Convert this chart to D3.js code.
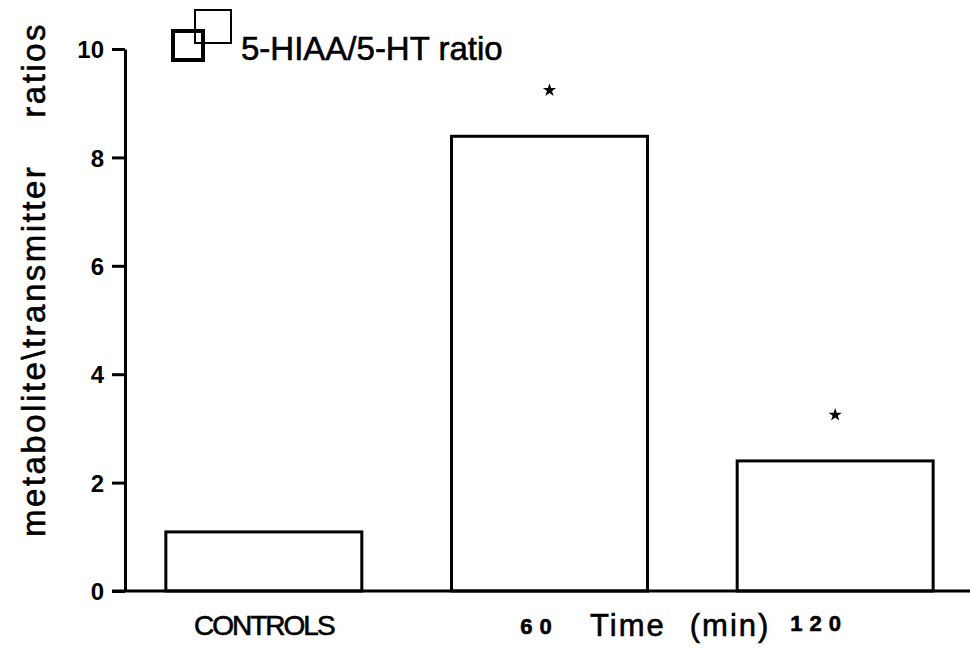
<!DOCTYPE html>
<html>
<head>
<meta charset="utf-8">
<script src="https://cdn.jsdelivr.net/npm/d3@7"></script>
<style>
  body { margin: 0; background: #fff; }
  text { font-family: "Liberation Sans", Arial, Helvetica, sans-serif; fill: #000; }
  .thick { stroke: #000; stroke-width: 0.6px; }
</style>
</head>
<body>
<div id="chart"></div>
<script>
// data
const categories = ['CONTROLS', '60', '120'];
const ratios = [1.09, 8.39, 2.40];
const significant = [false, true, true];
const yTicks = [0, 2, 4, 6, 8, 10];
const legendLabel = '5-HIAA/5-HT ratio';

const width = 970;
const height = 651;

const svg = d3.select('#chart')
    .append('svg')
    .attr('width', width)
    .attr('height', height);

svg.append('rect').attr('width', width).attr('height', height).attr('fill', '#fff');

const x = d3.scaleBand()
    .domain(categories)
    .range([121, 978])
    .paddingInner(0.314)
    .paddingOuter(0.157);

const y = d3.scaleLinear()
    .domain([0, 10])
    .range([591, 49]);

const axisX = 125;

// bars
svg.selectAll('.bar')
    .data(categories)
    .enter()
    .append('rect')
    .attr('class', 'bar')
    .attr('x', d => x(d))
    .attr('y', (d, i) => y(ratios[i]))
    .attr('width', x.bandwidth())
    .attr('height', (d, i) => y(0) - y(ratios[i]))
    .attr('fill', 'none')
    .attr('stroke', '#000')
    .attr('stroke-width', 3);

// significance stars
svg.selectAll('.star')
    .data(categories.filter((d, i) => significant[i]))
    .enter()
    .append('path')
    .attr('class', 'star')
    .attr('d', d3.symbol().type(d3.symbolStar).size(55))
    .attr('transform', d => `translate(${x(d) + x.bandwidth() / 2},${y(ratios[categories.indexOf(d)]) - 46})`)
    .attr('fill', '#000');

// x axis line
svg.append('line')
    .attr('x1', 112).attr('x2', width)
    .attr('y1', y(0)).attr('y2', y(0))
    .attr('stroke', '#000')
    .attr('stroke-width', 3);

// y axis
const yAxis = svg.append('g')
    .attr('transform', `translate(${axisX},0)`)
    .call(d3.axisLeft(y).tickValues(yTicks).tickSize(13).tickSizeOuter(0).tickPadding(8));

yAxis.select('.domain').attr('stroke-width', 3);
yAxis.selectAll('.tick line').attr('stroke-width', 3);
yAxis.selectAll('.tick text')
    .attr('font-size', 24)
    .attr('font-weight', 'bold')
    .attr('font-family', '"Liberation Sans", Arial, sans-serif')
    .attr('dy', '0.36em');

// category labels under the bars
const labelShift = [0, -10, -16];
svg.selectAll('.xlabel')
    .data(categories)
    .enter()
    .append('text')
    .attr('class', 'xlabel thick')
    .attr('x', (d, i) => x(d) + x.bandwidth() / 2 + labelShift[i])
    .attr('y', (d, i) => i === 0 ? 635 : (i === 1 ? 634 : 631))
    .attr('text-anchor', 'middle')
    .attr('font-size', (d, i) => i === 0 ? 28 : 22)
    .attr('font-weight', (d, i) => i === 0 ? 'normal' : 'bold')
    .attr('letter-spacing', (d, i) => i === 0 ? -2 : 7)
    .text(d => d);

// x axis title
const xt = svg.append('text')
    .attr('class', 'thick')
    .attr('x', 590)
    .attr('y', 636)
    .attr('font-size', 31)
    .attr('letter-spacing', 2);
xt.append('tspan').text('Time');
xt.append('tspan').attr('dx', 24).text('(min)');

// y axis title
svg.append('text')
    .attr('class', 'thick')
    .attr('transform', 'translate(45,537) rotate(-90)')
    .attr('font-size', 33)
    .attr('letter-spacing', 2.5)
    .text('metabolite\\transmitter');

svg.append('text')
    .attr('class', 'thick')
    .attr('transform', 'translate(45,22) rotate(-90)')
    .attr('text-anchor', 'end')
    .attr('font-size', 33)
    .attr('letter-spacing', 2.5)
    .text('ratios');

// legend: two overlapping open squares
svg.append('rect')
    .attr('x', 195).attr('y', 10)
    .attr('width', 36).attr('height', 33)
    .attr('fill', 'none')
    .attr('stroke', '#000')
    .attr('stroke-width', 2);

svg.append('rect')
    .attr('x', 173).attr('y', 31)
    .attr('width', 30).attr('height', 29)
    .attr('fill', 'none')
    .attr('stroke', '#000')
    .attr('stroke-width', 4);

svg.append('text')
    .attr('class', 'thick')
    .attr('x', 241)
    .attr('y', 60)
    .attr('font-size', 33)
    .text(legendLabel);
</script>
</body>
</html>
